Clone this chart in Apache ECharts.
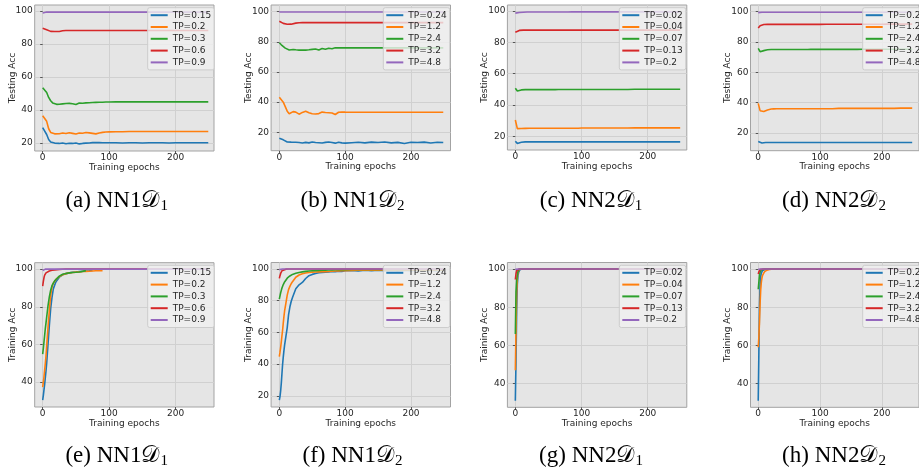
<!DOCTYPE html>
<html><head><meta charset="utf-8">
<script src="https://cdn.jsdelivr.net/npm/echarts@6/dist/echarts.min.js"></script>
<style>html,body{margin:0;padding:0;background:#fff}#c{width:919px;height:471px}</style>
</head><body><div id="c"></div>
<script>
// ---------- data ----------
const TOP_EPOCHS = [0,3,6,9,12,15,18,21,25,30,35,40,45,50,55,60,65,70,75,80,85,90,95,100,110,120,130,140,150,160,170,180,190,200,210,220,230,240,249];
const BOTTOM_EPOCHS = [0,1,2,3,4,5,6,7,8,10,12,14,16,18,20,25,30,35,40,45,50,55,60,65,70,75,80,85,90,95,100,110,120,130,140,150,160,170,180,190,200,210,220,230,240,249];
const X_TICKS = [0,100,200];
const Y_TICKS_FULL = [20,40,60,80,100];
const Y_TICKS_HIGH = [40,60,80,100];
const TP_NN1_D1 = ['TP=0.15','TP=0.2','TP=0.3','TP=0.6','TP=0.9'];
const TP_D2 = ['TP=0.24','TP=1.2','TP=2.4','TP=3.2','TP=4.8'];
const TP_NN2_D1 = ['TP=0.02','TP=0.04','TP=0.07','TP=0.13','TP=0.2'];
const CAPTION_PREFIX = ['(a) NN1','(b) NN1','(c) NN2','(d) NN2','(e) NN1','(f) NN1','(g) NN2','(h) NN2'];
const CAPTION_SUB = ['1','2','1','2','1','2','1','2'];

// (a) Testing Acc, NN1 D1
const a_tp015 = [29.2,28.2,25.0,22.0,20.5,20.2,19.8,19.4,19.6,19.9,19.4,19.7,19.6,19.9,19.3,19.6,19.8,19.9,20.1,20.2,20.1,20.0,20.0,20.0,20.0,19.9,20.0,20.0,19.9,20.0,20.0,20.0,19.9,20.0,20.0,20.0,20.0,20.0,20.0];
const a_tp02  = [36.4,36.0,33.0,28.5,26.3,25.6,25.4,25.8,25.5,25.9,25.6,26.1,25.7,25.3,25.9,25.8,26.2,26.0,25.7,25.4,25.9,26.3,26.5,26.6,26.7,26.7,26.8,26.8,26.8,26.8,26.8,26.8,26.8,26.8,26.8,26.8,26.8,26.8,26.8];
const a_tp03  = [53.4,52.8,50.5,47.5,45.5,44.2,43.5,43.3,43.4,43.6,43.8,43.9,43.7,43.2,44.1,44.0,44.2,44.3,44.4,44.5,44.6,44.6,44.7,44.7,44.8,44.8,44.8,44.8,44.8,44.8,44.8,44.8,44.8,44.8,44.8,44.8,44.8,44.8,44.8];
const a_tp06  = [89.5,89.2,88.6,88.0,87.6,87.4,87.5,87.9,87.5,88.0,88.1,88.1,88.1,88.1,88.1,88.1,88.1,88.1,88.1,88.1,88.1,88.1,88.1,88.1,88.1,88.1,88.1,88.1,88.1,88.1,88.1,88.1,88.1,88.1,88.1,88.1,88.1,88.1,88.1];
const a_tp09  = [98.8,99.2,99.3,99.3,99.3,99.3,99.3,99.3,99.3,99.3,99.3,99.3,99.3,99.3,99.3,99.3,99.3,99.3,99.3,99.3,99.3,99.3,99.3,99.3,99.3,99.3,99.3,99.3,99.3,99.3,99.3,99.3,99.3,99.3,99.3,99.3,99.3,99.3,99.3];
// (b) Testing Acc, NN1 D2
const b_tp024 = [16.0,16.0,15.0,14.2,13.6,13.3,13.5,13.0,13.4,13.2,12.9,13.3,13.0,13.6,13.2,13.1,12.9,13.3,13.6,13.2,12.8,13.4,13.0,12.8,13.1,13.4,13.0,13.5,13.2,13.6,13.0,13.3,12.6,13.4,13.2,13.5,12.9,13.4,13.2];
const b_tp12  = [43.2,42.5,40.0,37.0,34.0,32.3,32.8,33.7,33.4,32.0,33.2,34.0,33.0,32.3,32.1,32.4,33.4,33.1,33.0,32.8,31.8,33.3,33.5,33.4,33.3,33.3,33.3,33.3,33.3,33.3,33.3,33.3,33.3,33.3,33.3,33.3,33.3,33.3,33.3];
const b_tp24  = [79.4,78.0,76.8,75.8,75.0,74.6,74.4,74.9,74.7,74.5,74.6,74.5,74.7,75.0,75.2,74.6,75.6,75.0,75.7,75.4,76.0,76.0,76.0,76.0,76.0,76.0,76.0,76.0,76.0,76.0,76.0,76.0,76.0,76.0,76.0,76.0,76.0,76.0,76.0];
const b_tp32  = [93.6,92.8,92.2,91.8,91.6,91.5,91.7,92.1,92.4,92.6,92.7,92.7,92.7,92.7,92.7,92.7,92.7,92.7,92.7,92.7,92.7,92.7,92.7,92.7,92.7,92.7,92.7,92.7,92.7,92.7,92.7,92.7,92.7,92.7,92.7,92.7,92.7,92.7,92.7];
const b_tp48  = [99.8,99.8,99.8,99.8,99.8,99.8,99.8,99.8,99.8,99.8,99.8,99.8,99.8,99.8,99.8,99.8,99.8,99.8,99.8,99.8,99.8,99.8,99.8,99.8,99.8,99.8,99.8,99.8,99.8,99.8,99.8,99.8,99.8,99.8,99.8,99.8,99.8,99.8,99.8];
// (c) Testing Acc, NN2 D1
const c_tp002 = [17.0,15.6,15.8,16.3,16.5,16.6,16.6,16.6,16.6,16.6,16.6,16.6,16.6,16.6,16.6,16.6,16.6,16.6,16.6,16.6,16.6,16.6,16.6,16.6,16.6,16.6,16.6,16.6,16.6,16.6,16.6,16.6,16.6,16.6,16.6,16.6,16.6,16.6,16.6];
const c_tp004 = [30.5,25.0,24.9,25.1,25.2,25.2,25.3,25.3,25.3,25.3,25.3,25.3,25.3,25.3,25.3,25.3,25.3,25.3,25.3,25.3,25.3,25.3,25.3,25.4,25.4,25.4,25.4,25.4,25.4,25.4,25.4,25.5,25.5,25.5,25.5,25.5,25.5,25.5,25.5];
const c_tp007 = [50.8,49.0,49.5,49.7,49.8,49.9,49.9,49.9,49.9,49.9,49.9,49.9,49.9,49.9,49.9,49.9,50.0,50.0,50.0,50.0,50.0,50.0,50.0,50.0,50.0,50.0,50.0,50.0,50.0,50.0,50.0,50.1,50.1,50.1,50.1,50.1,50.1,50.1,50.1];
const c_tp013 = [86.4,87.2,87.6,87.8,87.8,87.8,87.8,87.8,87.8,87.8,87.8,87.8,87.8,87.8,87.8,87.8,87.8,87.8,87.8,87.8,87.8,87.8,87.8,87.8,87.8,87.8,87.8,87.8,87.8,87.8,87.8,87.8,87.8,87.8,87.8,87.8,87.8,87.8,87.8];
const c_tp02  = [98.6,98.8,99.0,99.1,99.2,99.3,99.3,99.3,99.3,99.3,99.3,99.3,99.3,99.3,99.3,99.3,99.3,99.3,99.3,99.3,99.4,99.4,99.4,99.4,99.4,99.4,99.4,99.4,99.4,99.4,99.4,99.4,99.4,99.4,99.4,99.4,99.4,99.4,99.4];
// (d) Testing Acc, NN2 D2
const d_tp024 = [14.3,13.6,13.4,13.6,13.7,13.7,13.7,13.7,13.7,13.7,13.7,13.7,13.7,13.7,13.7,13.7,13.7,13.7,13.7,13.7,13.7,13.7,13.7,13.7,13.7,13.7,13.7,13.7,13.7,13.7,13.7,13.7,13.7,13.7,13.7,13.7,13.7,13.7,13.7];
const d_tp12  = [39.5,34.7,34.6,34.2,34.4,35.2,35.6,35.8,35.9,36.0,36.0,36.0,36.0,36.0,36.0,36.0,36.0,36.0,36.0,36.0,36.0,36.0,36.0,36.0,36.0,36.0,36.2,36.2,36.2,36.2,36.2,36.2,36.2,36.2,36.2,36.2,36.4,36.4,36.4];
const d_tp24  = [75.8,73.6,73.3,74.3,74.7,74.9,75.0,75.0,75.0,75.0,75.0,75.0,75.0,75.0,75.0,75.0,75.0,75.0,75.0,75.0,75.1,75.1,75.1,75.1,75.1,75.1,75.1,75.1,75.1,75.1,75.2,75.2,75.2,75.2,75.2,75.2,75.2,75.2,75.2];
const d_tp32  = [89.2,90.7,91.3,91.5,91.6,91.6,91.6,91.6,91.6,91.6,91.6,91.6,91.6,91.6,91.6,91.6,91.6,91.6,91.6,91.6,91.6,91.6,91.6,91.6,91.7,91.7,91.7,91.7,91.7,91.7,91.7,91.7,91.7,91.7,91.8,91.8,91.8,91.8,91.8];
const d_tp48  = [99.4,99.6,99.6,99.6,99.6,99.6,99.6,99.6,99.6,99.6,99.6,99.6,99.6,99.6,99.6,99.6,99.6,99.6,99.6,99.6,99.6,99.6,99.6,99.6,99.6,99.6,99.6,99.6,99.6,99.6,99.6,99.6,99.6,99.6,99.6,99.6,99.6,99.6,99.6];
// (e) Training Acc, NN1 D1
const e_tp015 = [30.5,33.0,36.0,39.0,42.5,46.0,50.0,55.0,60.0,70.0,79.0,85.0,89.5,91.5,93.3,95.7,97.0,97.6,98.0,98.3,98.5,98.7,98.9,99.0,99.1,99.3,null,null,null,null,null,null,null,null,null,null,null,null,null,null,null,null,null,null,null,null];
const e_tp02  = [37.4,40.0,43.0,46.5,50.0,54.0,59.0,64.0,69.0,78.0,86.0,90.5,92.5,93.5,94.5,96.0,97.0,97.6,98.0,98.2,98.4,98.5,98.7,98.8,98.9,99.0,99.1,99.2,99.2,null,null,null,null,null,null,null,null,null,null,null,null,null,null,null,null,null];
const e_tp03  = [54.9,58.0,61.5,65.0,68.5,71.5,74.5,77.5,80.5,85.3,88.8,91.2,92.6,93.8,94.7,96.3,97.3,97.7,98.0,98.2,98.3,98.5,98.8,99.2,null,null,null,null,null,null,null,null,null,null,null,null,null,null,null,null,null,null,null,null,null,null];
const e_tp06  = [91.0,93.5,95.5,96.8,97.6,98.0,98.3,98.5,98.7,99.0,99.2,99.4,99.5,99.6,99.7,99.8,99.9,100,100,100,100,100,100,100,100,100,100,100,100,100,100,100,100,100,100,100,100,100,100,100,100,100,100,100,100,100];
const e_tp09  = [99.3,99.8,100,100,100,100,100,100,100,100,100,100,100,100,100,100,100,100,100,100,100,100,100,100,100,100,100,100,100,100,100,100,100,100,100,100,100,100,100,100,100,100,100,100,100,100];
// (f) Training Acc, NN1 D2
const f_tp024 = [17.3,19.5,23.0,28.0,34.0,40.0,44.5,48.5,52.0,57.5,63.0,71.0,76.0,79.5,82.0,87.5,90.0,91.5,94.0,95.8,96.6,97.1,97.6,97.8,98.0,98.1,98.4,98.3,98.6,98.5,98.9,99.1,98.8,99.2,98.9,99.2,98.9,99.3,99.0,99.3,99.0,99.3,99.1,99.3,99.0,99.2];
const f_tp12  = [44.7,47.5,50.5,54.0,58.0,61.5,66.0,70.0,73.5,78.5,83.5,87.0,89.0,90.7,92.0,94.8,96.2,97.0,97.5,97.8,98.0,98.1,98.2,98.3,98.3,98.4,98.6,98.7,98.8,98.9,99.0,99.1,99.2,99.2,99.3,99.3,99.4,99.4,99.4,99.4,99.4,99.4,99.4,99.4,99.4,99.4];
const f_tp24  = [81.0,83.0,85.0,86.5,88.0,89.2,90.2,91.0,91.8,93.0,94.2,95.0,95.6,96.2,96.6,97.3,97.8,98.2,98.5,98.7,98.9,99.0,99.1,99.2,99.3,99.4,99.4,99.5,99.5,99.6,99.6,99.7,99.7,99.7,99.7,99.7,99.7,99.7,99.7,99.7,99.7,99.7,99.7,99.7,99.7,99.7];
const f_tp32  = [94.1,95.8,97.2,98.2,98.9,99.3,99.5,99.7,99.8,99.9,100,100,100,100,100,100,100,100,100,100,100,100,100,100,100,100,100,100,100,100,100,100,100,100,100,100,100,100,100,100,100,100,100,100,100,100];
const f_tp48  = [99.6,99.9,100,100,100,100,100,100,100,100,100,100,100,100,100,100,100,100,100,100,100,100,100,100,100,100,100,100,100,100,100,100,100,100,100,100,100,100,100,100,100,100,100,100,100,100];
// (g) Training Acc, NN2 D1
const g_tp002 = [31.0,52.0,78.0,92.0,96.5,98.3,99.2,99.7,100,100,100,100,100,100,100,100,100,100,100,100,100,100,100,100,100,100,100,100,100,100,100,100,100,100,100,100,100,100,100,100,100,100,100,100,100,100];
const g_tp004 = [47.0,68.0,88.0,95.5,98.3,99.3,99.8,100,100,100,100,100,100,100,100,100,100,100,100,100,100,100,100,100,100,100,100,100,100,100,100,100,100,100,100,100,100,100,100,100,100,100,100,100,100,100];
const g_tp007 = [66.0,88.0,94.0,97.0,98.8,99.5,100,100,100,100,100,100,100,100,100,100,100,100,100,100,100,100,100,100,100,100,100,100,100,100,100,100,100,100,100,100,100,100,100,100,100,100,100,100,100,100];
const g_tp013 = [94.5,97.5,99.2,99.8,100,100,100,100,100,100,100,100,100,100,100,100,100,100,100,100,100,100,100,100,100,100,100,100,100,100,100,100,100,100,100,100,100,100,100,100,100,100,100,100,100,100];
const g_tp02  = [99.8,100,100,100,100,100,100,100,100,100,100,100,100,100,100,100,100,100,100,100,100,100,100,100,100,100,100,100,100,100,100,100,100,100,100,100,100,100,100,100,100,100,100,100,100,100];
// (h) Training Acc, NN2 D2
const h_tp024 = [31.0,55.0,80.0,92.0,96.0,97.8,98.7,99.2,99.5,99.8,99.9,100,100,100,100,100,100,100,100,100,100,100,100,100,100,100,100,100,100,100,100,100,100,100,100,100,100,100,100,100,100,100,100,100,100,100];
const h_tp12  = [59.0,64.0,72.0,82.0,89.0,93.0,95.3,96.7,97.6,98.5,99.1,99.4,99.6,99.8,99.9,100,100,100,100,100,100,100,100,100,100,100,100,100,100,100,100,100,100,100,100,100,100,100,100,100,100,100,100,100,100,100];
const h_tp24  = [89.4,93.0,96.5,98.3,99.2,99.6,99.8,100,100,100,100,100,100,100,100,100,100,100,100,100,100,100,100,100,100,100,100,100,100,100,100,100,100,100,100,100,100,100,100,100,100,100,100,100,100,100];
const h_tp32  = [97.4,98.5,99.3,99.7,99.9,100,100,100,100,100,100,100,100,100,100,100,100,100,100,100,100,100,100,100,100,100,100,100,100,100,100,100,100,100,100,100,100,100,100,100,100,100,100,100,100,100];
const h_tp48  = [99.9,100,100,100,100,100,100,100,100,100,100,100,100,100,100,100,100,100,100,100,100,100,100,100,100,100,100,100,100,100,100,100,100,100,100,100,100,100,100,100,100,100,100,100,100,100];

// ---------- panels ----------
const PANELS = [
  {key:'a', epochs:TOP_EPOCHS, names:TP_NN1_D1, series:[a_tp015,a_tp02,a_tp03,a_tp06,a_tp09], yName:'Testing Acc', yTicks:Y_TICKS_FULL},
  {key:'b', epochs:TOP_EPOCHS, names:TP_D2, series:[b_tp024,b_tp12,b_tp24,b_tp32,b_tp48], yName:'Testing Acc', yTicks:Y_TICKS_FULL},
  {key:'c', epochs:TOP_EPOCHS, names:TP_NN2_D1, series:[c_tp002,c_tp004,c_tp007,c_tp013,c_tp02], yName:'Testing Acc', yTicks:Y_TICKS_FULL},
  {key:'d', epochs:TOP_EPOCHS, names:TP_D2, series:[d_tp024,d_tp12,d_tp24,d_tp32,d_tp48], yName:'Testing Acc', yTicks:Y_TICKS_FULL},
  {key:'e', epochs:BOTTOM_EPOCHS, names:TP_NN1_D1, series:[e_tp015,e_tp02,e_tp03,e_tp06,e_tp09], yName:'Training Acc', yTicks:Y_TICKS_HIGH},
  {key:'f', epochs:BOTTOM_EPOCHS, names:TP_D2, series:[f_tp024,f_tp12,f_tp24,f_tp32,f_tp48], yName:'Training Acc', yTicks:Y_TICKS_FULL},
  {key:'g', epochs:BOTTOM_EPOCHS, names:TP_NN2_D1, series:[g_tp002,g_tp004,g_tp007,g_tp013,g_tp02], yName:'Training Acc', yTicks:Y_TICKS_HIGH},
  {key:'h', epochs:BOTTOM_EPOCHS, names:TP_D2, series:[h_tp024,h_tp12,h_tp24,h_tp32,h_tp48], yName:'Training Acc', yTicks:Y_TICKS_HIGH}
];

// ---------- layout (pixels / axis ranges) ----------
const LAYOUT = [
  {left:34.7, top:5, width:179.3, height:146, xMin:-12, xMax:257.6, yMin:15, yMax:103.6, legL:147.7, legT:7.7, capX:116.7, capY:200.7},
  {left:271.1, top:5, width:179.4, height:145.7, xMin:-12.5, xMax:260, yMin:7.8, yMax:104.4, legL:383.3, legT:7.7, capX:352.5, capY:200.7},
  {left:507.4, top:5, width:179.4, height:145, xMin:-12, xMax:259, yMin:11.4, yMax:103.8, legL:619.3, legT:7.7, capX:591, capY:200.7},
  {left:750.5, top:5, width:178.9, height:145.7, xMin:-12.5, xMax:260, yMin:8.3, yMax:104.4, legL:862.7, legT:7.7, capX:834, capY:200.7},
  {left:34.7, top:262.7, width:179.3, height:144.3, xMin:-12, xMax:257.6, yMin:26.8, yMax:103.4, legL:147.7, legT:265.3, capX:116.7, capY:456},
  {left:271.1, top:262.5, width:179.4, height:144.5, xMin:-12.5, xMax:260, yMin:12.9, yMax:104.1, legL:383.3, legT:265.3, capX:352.5, capY:456},
  {left:507.4, top:262.5, width:179.4, height:144.8, xMin:-12, xMax:259, yMin:27.6, yMax:103.4, legL:619.3, legT:265.3, capX:591, capY:456},
  {left:750.5, top:262.5, width:178.9, height:144.8, xMin:-12.5, xMax:260, yMin:27.6, yMax:103.4, legL:862.7, legT:265.3, capX:834, capY:456}
];

const COLORS = ['#1f77b4','#ff7f0e','#2ca02c','#d62728','#9467bd'];
const FONT = 'DejaVu Sans';
const TXT = '#262626';

const option = {animation:false, grid:[], xAxis:[], yAxis:[], series:[], legend:[], graphic:[]};

PANELS.forEach((p, i) => {
  const L = LAYOUT[i];
  option.grid.push({left:L.left, top:L.top, width:L.width, height:L.height, show:true,
    backgroundColor:'#e5e5e5', borderColor:'#a3a3a3', borderWidth:1});
  option.xAxis.push({gridIndex:i, type:'value', min:L.xMin, max:L.xMax,
    name:'Training epochs', nameLocation:'middle', nameGap:10,
    nameTextStyle:{fontSize:9, color:TXT, fontFamily:FONT},
    axisLine:{show:false},
    axisTick:{show:true, length:2.5, customValues:X_TICKS, lineStyle:{color:'#555'}},
    axisLabel:{customValues:X_TICKS, fontSize:9, margin:2, color:TXT, fontFamily:FONT},
    splitLine:{show:true, lineStyle:{color:'#d0d0d0', width:1}}});
  option.yAxis.push({gridIndex:i, type:'value', min:L.yMin, max:L.yMax,
    name:p.yName, nameLocation:'middle', nameGap:18, nameMoveOverlap:false,
    nameTextStyle:{fontSize:9, color:TXT, fontFamily:FONT},
    axisLine:{show:false},
    axisTick:{show:true, length:2.5, customValues:p.yTicks, lineStyle:{color:'#555'}},
    axisLabel:{customValues:p.yTicks, fontSize:9, margin:2, color:TXT, fontFamily:FONT},
    splitLine:{show:true, lineStyle:{color:'#d0d0d0', width:1}}});
  p.series.forEach((vals, j) => {
    option.series.push({type:'line', name:p.key + '|' + p.names[j], xAxisIndex:i, yAxisIndex:i,
      data:p.epochs.map((e, k) => [e, vals[k]]),
      showSymbol:false, symbol:'none', connectNulls:false, silent:true,
      lineStyle:{width:1.6, color:COLORS[j]}, itemStyle:{color:COLORS[j]}});
  });
  option.legend.push({left:L.legL, top:L.legT, orient:'vertical', selectedMode:false,
    data:p.names.map(n => p.key + '|' + n),
    formatter: n => n.split('|')[1],
    icon:'rect', itemWidth:17, itemHeight:2, itemGap:0.8, padding:[2,3,2,3],
    textStyle:{fontSize:9, lineHeight:11, color:TXT, fontFamily:FONT},
    backgroundColor:'rgba(240,240,240,0.8)', borderColor:'#cccccc', borderWidth:1, borderRadius:2});
  option.graphic.push({type:'text', x:L.capX, y:L.capY, silent:true,
    style:{text:'{p|' + CAPTION_PREFIX[i] + '}{d|\uD835\uDC9F}{s|' + CAPTION_SUB[i] + '}',
      align:'center', verticalAlign:'middle', textAlign:'center', textVerticalAlign:'middle', fill:'#000',
      rich:{p:{fontSize:23, fontFamily:'Liberation Serif', fill:'#000'},
            d:{fontSize:23, fontFamily:'DejaVu Serif, Liberation Serif, serif', fill:'#000'},
            s:{fontSize:15, fontFamily:'Liberation Serif', fill:'#000', padding:[10,0,0,1]}}}});
});

const chart = echarts.init(document.getElementById('c'), null, {renderer:'canvas'});
chart.setOption(option);
</script></body></html>
